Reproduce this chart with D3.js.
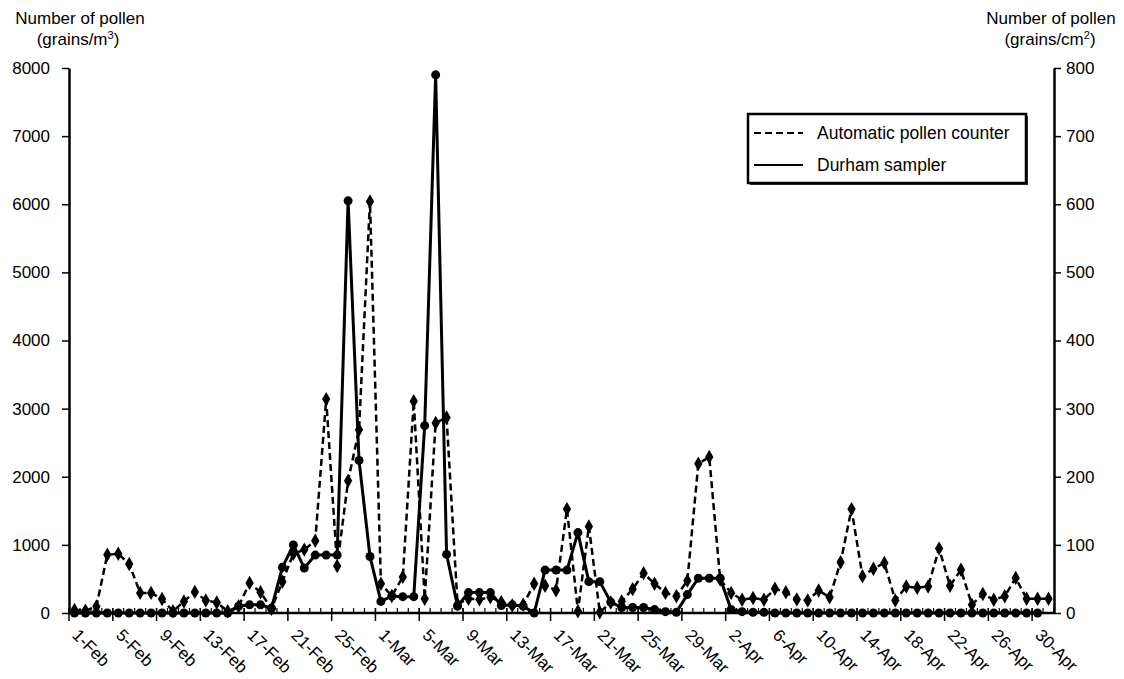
<!DOCTYPE html>
<html>
<head>
<meta charset="utf-8">
<script src="https://cdn.jsdelivr.net/npm/d3@7"></script>
<style>
  body { margin: 0; background: #fff; }
  .canvas { width: 1124px; height: 679px; }
  text { font-family: "Liberation Sans", Arial, sans-serif; fill: #000; }
</style>
</head>
<body>
<div class="canvas"></div>
<script>
// daily categories, 1-Feb .. 1-May
const days = d3.timeDay.range(new Date(2001, 1, 1), new Date(2001, 4, 2));
const tickLabels = [
  '1-Feb', '5-Feb', '9-Feb', '13-Feb', '17-Feb', '21-Feb', '25-Feb',
  '1-Mar', '5-Mar', '9-Mar', '13-Mar', '17-Mar', '21-Mar', '25-Mar', '29-Mar',
  '2-Apr', '6-Apr', '10-Apr', '14-Apr', '18-Apr', '22-Apr', '26-Apr', '30-Apr',
];
const leftTicks = [0, 1000, 2000, 3000, 4000, 5000, 6000, 7000, 8000];
const rightTicks = [0, 100, 200, 300, 400, 500, 600, 700, 800];

// automatic pollen counter, grains/m3 (left axis)
const automatic = [
  45, 35, 95, 855, 870, 720, 295, 295, 205, 25,
  170, 310, 185, 155, 25, 100, 440, 305, 60, 460,
  870, 930, 1060, 3140, 690, 1940, 2690, 6040, 430, 250,
  530, 3110, 210, 2790, 2870, 130, 210, 200, 230, 160,
  110, 120, 430, 400, 335, 1525, 25, 1270, 10, 155,
  170, 350, 585, 430, 295, 245, 475, 2190, 2290, 490,
  295, 195, 220, 195, 355, 305, 200, 185, 330, 230,
  745, 1525, 540, 650, 735, 185, 390, 370, 390, 945,
  400, 635, 120, 280, 195, 245, 515, 210, 210, 210,
];
// Durham sampler, grains/cm2 (right axis)
const durham = [
  0, 0, 0, 0, 0, 0, 0, 0, 0, 0,
  0, 0, 0, 0, 0, 10, 12, 12, 7, 67,
  100, 66, 85, 85, 85, 605, 224, 83, 17, 25,
  24, 24, 275, 790, 86, 10, 30, 30, 30, 11,
  12, 10, 0, 63, 63, 63, 118, 46, 46, 16,
  8, 8, 8, 5, 2, 1, 27, 51, 51, 51,
  5, 2, 1, 1, 0, 0, 0, 0, 0, 0,
  0, 0, 0, 0, 0, 0, 0, 0, 0, 0,
  0, 0, 0, 0, 0, 0, 0, 0, 0, null,
];

const fmt = d3.timeFormat('%-d-%b');
const plot = { left: 69, right: 1054, top: 68, bottom: 613 };
const FS = 17;

const svg = d3
  .select('.canvas')
  .append('svg')
  .attr('width', 1124)
  .attr('height', 679);

const x = d3
  .scaleBand()
  .domain(days.map(fmt))
  .range([plot.left, plot.right])
  .padding(0);
const cx = d => x(d) + x.bandwidth() / 2;
const yL = d3.scaleLinear().domain([0, 8000]).range([plot.bottom, plot.top]);
const yR = d3.scaleLinear().domain([0, 800]).range([plot.bottom, plot.top]);

// y axes
const leftAxis = svg
  .append('g')
  .attr('transform', `translate(${plot.left},0)`)
  .call(d3.axisLeft(yL).tickValues(leftTicks).tickSize(7).tickSizeOuter(0).tickPadding(12).tickFormat(d3.format('d')));
const rightAxis = svg
  .append('g')
  .attr('transform', `translate(${plot.right},0)`)
  .call(d3.axisRight(yR).tickValues(rightTicks).tickSize(7).tickSizeOuter(0).tickPadding(5).tickFormat(d3.format('d')));
[leftAxis, rightAxis].forEach(g => {
  g.select('.domain').attr('stroke', '#000').attr('stroke-width', 2.5);
  g.selectAll('.tick line').attr('stroke', '#000').attr('stroke-width', 1.5);
  g.selectAll('.tick text')
    .attr('font-size', FS)
    .attr('font-family', '"Liberation Sans", Arial, sans-serif')
    .attr('fill', '#000');
});

// x axis: line, minor ticks every day, major ticks every 4 days
const xAxis = svg.append('g').attr('id', 'xAxis');
const bounds = x.domain().map(d => x(d)).concat([plot.right]);
xAxis
  .selectAll('line.minor')
  .data(bounds)
  .join('line')
  .attr('class', 'minor')
  .attr('x1', d => d)
  .attr('x2', d => d)
  .attr('y1', plot.bottom - 5)
  .attr('y2', plot.bottom)
  .attr('stroke', '#000')
  .attr('stroke-width', 1.2);
xAxis
  .selectAll('line.major')
  .data(bounds.filter((d, i) => i % 4 === 0 && i < 90))
  .join('line')
  .attr('class', 'major')
  .attr('x1', d => d)
  .attr('x2', d => d)
  .attr('y1', plot.bottom - 5)
  .attr('y2', plot.bottom + 8)
  .attr('stroke', '#000')
  .attr('stroke-width', 1.5);
xAxis
  .append('line')
  .attr('x1', plot.left)
  .attr('x2', plot.right)
  .attr('y1', plot.bottom)
  .attr('y2', plot.bottom)
  .attr('stroke', '#000')
  .attr('stroke-width', 2.5);
xAxis
  .selectAll('text')
  .data(tickLabels)
  .join('text')
  .attr('transform', d => `translate(${cx(d) + 1},${plot.bottom + 19}) rotate(45)`)
  .attr('dy', '0.35em')
  .attr('font-size', FS)
  .text(d => d);

// series
const autoData = automatic.map((v, i) => ({ key: fmt(days[i]), v }));
const durData = durham
  .map((v, i) => ({ key: fmt(days[i]), v }))
  .filter(d => d.v !== null);

const autoLine = d3.line().x(d => cx(d.key)).y(d => yL(d.v));
const durLine = d3.line().x(d => cx(d.key)).y(d => yR(d.v));

svg
  .append('path')
  .datum(autoData)
  .attr('d', autoLine)
  .attr('fill', 'none')
  .attr('stroke', '#000')
  .attr('stroke-width', 2.5)
  .attr('stroke-dasharray', '7,4');
svg
  .append('g')
  .selectAll('path')
  .data(autoData)
  .join('path')
  .attr('d', d3.symbol(d3.symbolDiamond, 60))
  .attr('transform', d => `translate(${cx(d.key)},${yL(d.v)})`)
  .attr('fill', '#000');

svg
  .append('path')
  .datum(durData)
  .attr('d', durLine)
  .attr('fill', 'none')
  .attr('stroke', '#000')
  .attr('stroke-width', 3);
svg
  .append('g')
  .selectAll('circle')
  .data(durData)
  .join('circle')
  .attr('cx', d => cx(d.key))
  .attr('cy', d => yR(d.v))
  .attr('r', 4.5)
  .attr('fill', '#000');

// axis titles
const titles = [
  { x: 80, x2: 78, lines: ['Number of pollen', '(grains/m', '3', ')'] },
  { x: 1051, x2: 1050, lines: ['Number of pollen', '(grains/cm', '2', ')'] },
];
titles.forEach(t => {
  svg.append('text').attr('x', t.x).attr('y', 24).attr('text-anchor', 'middle').attr('font-size', FS).text(t.lines[0]);
  const sub = svg.append('text').attr('x', t.x2).attr('y', 45).attr('text-anchor', 'middle').attr('font-size', FS);
  sub.append('tspan').text(t.lines[1]);
  sub.append('tspan').attr('font-size', 11).attr('dy', -6).text(t.lines[2]);
  sub.append('tspan').attr('dy', 6).text(t.lines[3]);
});

// legend
const legend = svg.append('g').attr('id', 'legend');
legend
  .append('rect')
  .attr('x', 750)
  .attr('y', 116)
  .attr('width', 278)
  .attr('height', 69)
  .attr('fill', '#333');
legend
  .append('rect')
  .attr('x', 748)
  .attr('y', 114)
  .attr('width', 278)
  .attr('height', 69)
  .attr('fill', '#fff')
  .attr('stroke', '#000')
  .attr('stroke-width', 2.5);
const legendItems = [
  { name: 'Automatic pollen counter', dash: '7,4', y: 133 },
  { name: 'Durham sampler', dash: null, y: 165 },
];
legendItems.forEach(item => {
  legend
    .append('line')
    .attr('x1', 754)
    .attr('x2', 803)
    .attr('y1', item.y)
    .attr('y2', item.y)
    .attr('stroke', '#000')
    .attr('stroke-width', 2)
    .attr('stroke-dasharray', item.dash);
  legend
    .append('text')
    .attr('x', 817)
    .attr('y', item.y)
    .attr('dy', '0.35em')
    .attr('font-size', 17.5)
    .text(item.name);
});
</script>
</body>
</html>
